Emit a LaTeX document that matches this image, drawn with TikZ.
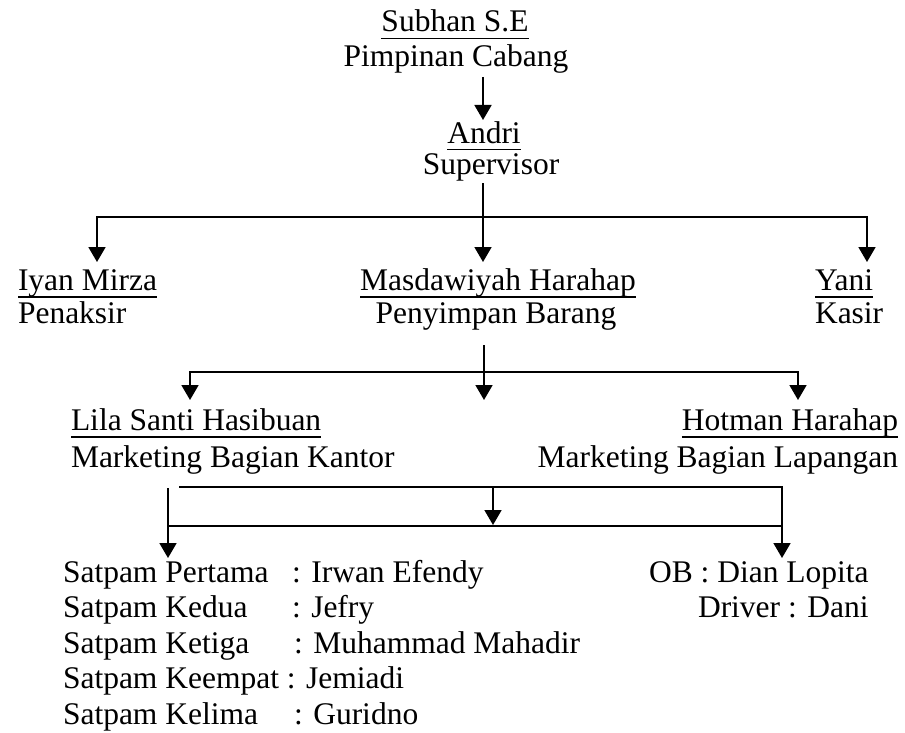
\documentclass[tikz,border=0pt]{standalone}
\usepackage{fontspec}
\setmainfont{Liberation Serif}
\usetikzlibrary{arrows.meta}
\newcommand\myul[1]{\setbox0\hbox{#1}\rlap{\rule[-7.5pt]{\wd0}{1.8pt}}\box0}
\begin{document}
\begin{tikzpicture}[x=1pt,y=-1pt,
  txt/.style={inner sep=0pt, outer sep=0pt, font=\fontsize{31.5}{34}\selectfont},
  conn/.style={line width=1.8pt},
  arr/.style={conn, -{Triangle[length=15pt,width=17pt]}}]
\useasboundingbox (0,0) rectangle (905,733);
% level 0
\node[txt, anchor=base] (subhan)  at (455,32)  {\myul{Subhan S.E}};
\node[txt, anchor=base] (subhanr) at (456,67)  {Pimpinan Cabang};
% level 1
\node[txt, anchor=base] (andri)   at (484,143) {\myul{Andri}};
\node[txt, anchor=base] (andrir)  at (491,175) {Supervisor};
% level 2
\node[txt, anchor=base west] (iyan)  at (18,290)  {\myul{Iyan Mirza}};
\node[txt, anchor=base west] (iyanr) at (18,323)  {Penaksir};
\node[txt, anchor=base] (masda)  at (498,290) {\myul{Masdawiyah Harahap}};
\node[txt, anchor=base] (masdar) at (496,323) {Penyimpan Barang};
\node[txt, anchor=base west] (yani)  at (815,290) {\myul{Yani}};
\node[txt, anchor=base west] (yanir) at (815,323) {Kasir};
% level 3
\node[txt, anchor=base west] (lila)  at (71,430) {\myul{Lila Santi Hasibuan}};
\node[txt, anchor=base west] (lilar) at (71,467) {Marketing Bagian Kantor};
\node[txt, anchor=base east] (hotman)  at (898,430) {\myul{Hotman Harahap}};
\node[txt, anchor=base east] (hotmanr) at (898,467) {Marketing Bagian Lapangan};
% level 4
\node[txt, anchor=base west] (s1) at (63,582)   {\makebox[229pt][l]{Satpam Pertama}: Irwan Efendy};
\node[txt, anchor=base west] (s2) at (63,617.5) {\makebox[229pt][l]{Satpam Kedua}: Jefry};
\node[txt, anchor=base west] (s3) at (63,653)   {\makebox[231pt][l]{Satpam Ketiga}: Muhammad Mahadir};
\node[txt, anchor=base west] (s4) at (63,688.5) {Satpam Keempat : Jemiadi};
\node[txt, anchor=base west] (s5) at (63,724)   {\makebox[231pt][l]{Satpam Kelima}: Guridno};
\node[txt, anchor=base west] (ob)  at (649,582)   {OB : Dian Lopita};
\node[txt, anchor=base west] (drv) at (698,617.5) {Driver : Dani};
% connector points
\coordinate (a0s) at (483,77);
\coordinate (a0e) at (483,120);
\coordinate (a1s) at (483,183);
\coordinate (a1c) at (483,217);
\coordinate (a1e) at (483,262);
\coordinate (a1l) at (97,262);
\coordinate (a1r) at (867,262);
\coordinate (a2s) at (484,345);
\coordinate (a2c) at (484,372);
\coordinate (a2e) at (484,400);
\coordinate (a2l) at (190,400);
\coordinate (a2r) at (798,400);
\coordinate (a3s) at (179,487);
\coordinate (a3r) at (782,558);
\coordinate (a3mt) at (493,487);
\coordinate (a3me) at (493,525);
\coordinate (a3hl) at (168,526);
\coordinate (a3hr) at (782,526);
\coordinate (a3ls) at (168,488);
\coordinate (a3le) at (168,558);
% connectors
\draw[arr] (a0s) -- (a0e);
\draw[arr] (a1s) -- (a1e);
\draw[arr] (a1c) -| (a1l);
\draw[arr] (a1c) -| (a1r);
\draw[arr] (a2s) -- (a2e);
\draw[arr] (a2c) -| (a2l);
\draw[arr] (a2c) -| (a2r);
\draw[arr] (a3s) -| (a3r);
\draw[arr] (a3mt) -- (a3me);
\draw[conn] (a3hl) -- (a3hr);
\draw[arr] (a3ls) -- (a3le);
\end{tikzpicture}
\end{document}
